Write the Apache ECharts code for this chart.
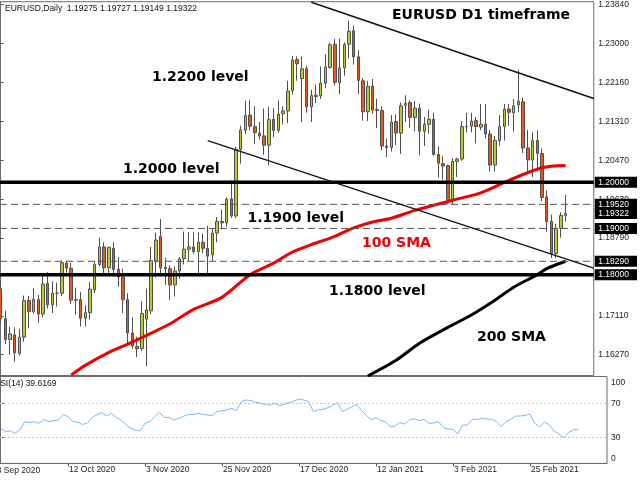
<!DOCTYPE html>
<html><head><meta charset="utf-8">
<script src="https://cdn.jsdelivr.net/npm/echarts@6/dist/echarts.min.js"></script>
<style>html,body{margin:0;padding:0;background:#fff}#c{width:640px;height:480px}</style>
</head><body><div id="c"></div>
<script>
// Daily bars, index 0 = 22 Sep 2020 ... index 120 = 11 Mar 2021
const opens = [
1.1770,1.1705,1.1660,1.1670,1.1630,1.1665,1.1744,1.1720,1.1746,1.1715,
1.1781,1.1735,1.1760,1.1760,1.1825,1.1814,1.1745,1.1746,1.1706,1.1718,
1.1767,1.1822,1.1860,1.1815,1.1857,1.1812,1.1795,1.1746,1.1674,1.1645,
1.1640,1.1704,1.1722,1.1830,1.1883,1.1816,1.1813,1.1778,1.1808,1.1835,
1.1855,1.1860,1.1850,1.1870,1.1857,1.1843,1.1890,1.1915,1.1912,1.1964,
1.1927,1.2071,1.2112,1.2145,1.2120,1.2106,1.2100,1.2080,1.2136,1.2112,
1.2148,1.2154,1.2198,1.2265,1.2224,1.2245,1.2163,1.2188,1.2187,1.2214,
1.2248,1.2298,1.2215,1.2247,1.2298,1.2327,1.2271,1.2219,1.2152,1.2208,
1.2157,1.2155,1.2078,1.2075,1.2131,1.2106,1.2166,1.2172,1.2140,1.2160,
1.2110,1.2125,1.2136,1.2060,1.2040,1.2036,1.1962,1.2045,1.2050,1.2120,
1.2121,1.2133,1.2119,1.2125,1.2104,1.2037,1.2090,1.2120,1.2158,1.2150,
1.2167,1.2174,1.2074,1.2048,1.2090,1.2062,1.1968,1.1915,1.1846,1.1900,
1.19275];
const closes = [
1.1705,1.1660,1.1672,1.1631,1.1665,1.1744,1.1720,1.1747,1.1715,1.1780,
1.1735,1.1760,1.1760,1.1826,1.1814,1.1745,1.1746,1.1706,1.1718,1.1769,
1.1822,1.1860,1.1815,1.1859,1.1811,1.1795,1.1746,1.1674,1.1646,1.1640,
1.1716,1.1724,1.1830,1.1875,1.1815,1.1813,1.1778,1.1808,1.1834,1.1855,
1.1860,1.1850,1.1870,1.1857,1.1840,1.1890,1.1915,1.1912,1.1963,1.1927,
1.2071,1.2113,1.2144,1.2121,1.2107,1.2100,1.2080,1.2135,1.2112,1.2147,
1.2154,1.2197,1.2264,1.2256,1.2245,1.2163,1.2187,1.2185,1.2214,1.2249,
1.2297,1.2216,1.2247,1.2297,1.2326,1.2271,1.2220,1.2152,1.2207,1.2156,
1.2155,1.2078,1.2075,1.2130,1.2106,1.2165,1.2170,1.2140,1.2160,1.2110,
1.2125,1.2136,1.2060,1.2041,1.2035,1.1962,1.2045,1.2050,1.2120,1.2120,
1.2132,1.2120,1.2125,1.2104,1.2037,1.2090,1.2120,1.2158,1.2151,1.2165,
1.2175,1.2074,1.2048,1.2090,1.2062,1.1967,1.1915,1.1846,1.1900,1.1928,
1.19322];
const highs = [
1.1787,1.1722,1.1688,1.1686,1.1683,1.1755,1.1754,1.1771,1.1756,1.1798,
1.1806,1.1786,1.1783,1.1831,1.1830,1.1826,1.1772,1.1763,1.1734,1.1784,
1.1829,1.1880,1.1870,1.1860,1.1870,1.1838,1.1813,1.1760,1.1708,1.1666,
1.1743,1.1770,1.1860,1.1891,1.1920,1.1837,1.1820,1.1818,1.1838,1.1893,
1.1892,1.1893,1.1891,1.1889,1.1906,1.1900,1.1925,1.1941,1.1967,1.2004,
1.2077,1.2122,1.2176,1.2178,1.2164,1.2130,1.2159,1.2163,1.2160,1.2177,
1.2164,1.2219,1.2273,1.2272,1.2272,1.2251,1.2200,1.2211,1.2250,1.2276,
1.2302,1.2310,1.2310,1.2302,1.2349,1.2339,1.2285,1.2225,1.2219,1.2223,
1.2180,1.2164,1.2094,1.2145,1.2146,1.2172,1.2188,1.2177,1.2175,1.2170,
1.2141,1.2157,1.2150,1.2077,1.2056,1.2038,1.2052,1.2053,1.2132,1.2150,
1.2150,1.2141,1.2169,1.2169,1.2113,1.2100,1.2145,1.2169,1.2169,1.2180,
1.2243,1.2183,1.2113,1.2108,1.2112,1.2073,1.1982,1.1930,1.1910,1.1935,
1.19727];
const lows = [
1.1696,1.1650,1.1627,1.1612,1.1625,1.1655,1.1684,1.1716,1.1696,1.1708,
1.1727,1.1717,1.1731,1.1754,1.1797,1.1737,1.1714,1.1688,1.1688,1.1703,
1.1760,1.1818,1.1803,1.1801,1.1800,1.1774,1.1717,1.1650,1.1640,1.1622,
1.1635,1.1602,1.1714,1.1794,1.1800,1.1778,1.1745,1.1753,1.1791,1.1822,
1.1830,1.1845,1.1800,1.1846,1.1803,1.1830,1.1870,1.1898,1.1904,1.1923,
1.1923,1.2040,1.2104,1.2112,1.2083,1.2092,1.2059,1.2036,1.2097,1.2107,
1.2125,1.2128,1.2189,1.2219,1.2130,1.2150,1.2130,1.2171,1.2180,1.2203,
1.2245,1.2209,1.2190,1.2230,1.2267,1.2254,1.2190,1.2133,1.2132,1.2148,
1.2117,1.2069,1.2054,1.2066,1.2080,1.2061,1.2130,1.2118,1.2110,1.2058,
1.2078,1.2105,1.2057,1.2010,1.2005,1.1952,1.1952,1.2011,1.2046,1.2107,
1.2108,1.2084,1.2112,1.2094,1.2023,1.2023,1.2079,1.2090,1.2122,1.2109,
1.2151,1.2063,1.2018,1.2011,1.2026,1.1959,1.1893,1.1836,1.1836,1.1880,
1.19149];
const rsi = [
40.9,37.0,37.8,35.1,39.0,48.6,47.5,48.6,46.7,51.3,
48.5,49.8,50.6,57.2,54.5,48.6,48.2,45.5,46.7,53.3,
56.8,59.1,55.2,58.3,53.7,50.6,45.5,40.9,39.0,37.8,
46.7,48.6,54.5,59.5,53.7,53.7,50.6,52.5,54.9,57.2,
56.8,58.3,57.2,56.4,55.6,60.7,61.4,62.2,64.2,61.4,
71.9,74.0,73.2,71.2,70.4,68.8,68.0,70.0,67.3,69.2,
70.8,72.7,75.1,74.0,71.9,60.3,62.6,63.0,65.0,67.5,
70.8,60.3,63.0,66.0,68.8,61.5,56.0,50.6,53.3,49.8,
48.6,42.8,43.6,47.5,45.9,51.3,51.7,49.8,51.3,46.7,
47.2,48.6,41.7,40.1,39.7,34.3,44.4,44.8,51.3,51.3,
52.5,51.7,51.5,49.0,42.8,48.6,51.3,55.2,55.2,56.0,
57.6,46.7,42.8,47.9,45.1,37.8,34.3,30.0,35.9,39.0,
39.6];
// moving averages: [bar index, value]
const sma100 = [[15,1.1583],[18,1.1604],[23,1.1632],[27,1.1650],[31,1.1669],[36,1.1694],[41,1.1725],[47,1.1751],[53,1.1800],[58,1.1825],[62,1.1849],[66,1.1865],[70,1.1879],[75,1.1901],[79,1.1914],[83,1.1922],[88,1.1939],[96,1.1961],[102,1.1977],[108,1.2004],[115,1.2031],[120,1.2036]];
const sma200 = [[78,1.1581],[84,1.1615],[89,1.1652],[95,1.1686],[100,1.1713],[105,1.1745],[109,1.1773],[114,1.1800],[116,1.1813],[120,1.1829]];
// drawn objects
const trendUpper = [[66,1.2389],[126,1.2181]];
const trendLower = [[44,1.2090],[126,1.1814]];
const solidLevels = [1.2000,1.1800];
const dashedLevels = [1.1952,1.1900,1.1829];
// axes
const priceTicks = [1.16270,1.17110,1.18790,1.19630,1.20470,1.21310,1.22160,1.23000,1.23840];
const markedPrices = [1.20000,1.19520,1.19322,1.19000,1.18290,1.18000];
const rsiTicks = [0,30,70,100];
const dateTickIndex = [14,30,46,62,78,94,110];
const dateTickLabels = ['12 Oct 2020','3 Nov 2020','25 Nov 2020','17 Dec 2020','12 Jan 2021','3 Feb 2021','25 Feb 2021'];
const firstDateLabel = '18 Sep 2020';
const infoText = 'EURUSD,Daily  1.19275 1.19727 1.19149 1.19322';
const rsiText = 'RSI(14) 39.6169';

const F = '"Liberation Sans", Arial, sans-serif';
const B = '"DejaVu Sans", sans-serif';
const candleData = opens.map((o,i)=>[i,o,closes[i],lows[i],highs[i]]);
const isMarked = v => markedPrices.some(h=>Math.abs(h-v)<1e-7);

const chart = echarts.init(document.getElementById('c'));

const levelSeries = [];
solidLevels.forEach(v=>levelSeries.push({type:'line',xAxisIndex:0,yAxisIndex:0,z:5,showSymbol:false,silent:true,
  data:[[-0.125,v],[126,v]],lineStyle:{color:'#000',width:3.5}}));
dashedLevels.forEach(v=>levelSeries.push({type:'line',xAxisIndex:0,yAxisIndex:0,z:5,showSymbol:false,silent:true,
  data:[[-0.125,v],[126,v]],lineStyle:{color:'#555',width:1,type:[7,4]}}));
levelSeries.push({type:'line',xAxisIndex:0,yAxisIndex:0,z:5,showSymbol:false,silent:true,data:trendUpper,lineStyle:{color:'#111',width:1.6}});
levelSeries.push({type:'line',xAxisIndex:0,yAxisIndex:0,z:5,showSymbol:false,silent:true,data:trendLower,lineStyle:{color:'#111',width:1.3}});

const txt = (text,x,y,font,fill)=>({type:'text',x:x,y:y,z:100,silent:true,style:{text:text,font:font,fill:fill||'#000',verticalAlign:'middle',align:'left'}});

chart.setOption({
  animation:false,
  backgroundColor:'#fff',
  grid:[
    {left:0,right:33,top:1,height:374.5,show:true,borderColor:'#6a6a6a',borderWidth:1},
    {left:0,right:33,top:376.5,height:86.9,show:true,borderColor:'#6a6a6a',borderWidth:1}
  ],
  xAxis:[
    {gridIndex:0,type:'value',min:-0.125,max:126,show:false},
    {gridIndex:1,type:'value',min:-0.125,max:126,
     axisLine:{show:true,lineStyle:{color:'#6a6a6a'}},
     splitLine:{show:false},
     axisTick:{show:true,customValues:dateTickIndex,length:3,lineStyle:{color:'#555'}},
     axisLabel:{show:true,customValues:dateTickIndex,align:'left',margin:2,padding:[0,0,0,1],
       fontFamily:'Liberation Sans',fontSize:8.5,color:'#222',
       formatter:v=>dateTickLabels[dateTickIndex.indexOf(Math.round(v))]||''}}
  ],
  yAxis:[
    {gridIndex:0,type:'value',position:'right',min:1.15821,max:1.2390,scale:true,
     splitLine:{show:false},
     axisLine:{show:true,lineStyle:{color:'#6a6a6a'}},
     axisTick:{show:true,customValues:priceTicks,length:3,lineStyle:{color:'#555'}},
     axisLabel:{show:true,customValues:priceTicks.concat(markedPrices),margin:1,
       formatter:v=>(isMarked(v)?'{h|':'{n|')+v.toFixed(5)+'}',
       rich:{
         n:{fontFamily:'Liberation Sans',fontSize:8.5,color:'#222',padding:[0,0,0,3.5]},
         h:{fontFamily:'Liberation Sans',fontSize:8.5,color:'#fff',backgroundColor:'#000',padding:[1,8,1,3.5]}
       }}},
    {gridIndex:1,type:'value',position:'right',min:0,max:101.3,
     splitLine:{show:false},
     axisLine:{show:true,lineStyle:{color:'#6a6a6a'}},
     axisTick:{show:true,customValues:[30,70],length:3,lineStyle:{color:'#555'}},
     axisLabel:{show:true,customValues:rsiTicks,margin:4,
       formatter:v=>v===100?'{t|100}':v===0?'{b|0}':'{n|'+v+'}',
       rich:{
         n:{fontFamily:'Liberation Sans',fontSize:8.5,color:'#222'},
         t:{fontFamily:'Liberation Sans',fontSize:8.5,color:'#222',padding:[10,0,0,0]},
         b:{fontFamily:'Liberation Sans',fontSize:8.5,color:'#222',padding:[0,0,10,0]}
       }}}
  ],
  series:[
    {type:'candlestick',xAxisIndex:0,yAxisIndex:0,data:candleData,barWidth:3,z:2,
     itemStyle:{color:'#b2cf2e',color0:'#e8581e',borderColor:'#505050',borderColor0:'#505050',borderWidth:1}},
    {type:'line',xAxisIndex:0,yAxisIndex:0,data:sma100,showSymbol:false,z:4,smooth:0.3,
     lineStyle:{color:'#f00000',width:3}},
    {type:'line',xAxisIndex:0,yAxisIndex:0,data:sma200,showSymbol:false,z:4,smooth:0.3,
     lineStyle:{color:'#000',width:3}},
    {type:'line',xAxisIndex:1,yAxisIndex:1,data:rsi.map((v,i)=>[i,v]),showSymbol:false,z:4,
     lineStyle:{color:'#7ab8f5',width:1},
     markLine:{silent:true,symbol:['none','none'],label:{show:false},
       lineStyle:{color:'#c4c4c4',width:1,type:[2,2]},data:[{yAxis:70},{yAxis:30}]}}
  ].concat(levelSeries),
  graphic:[
    txt(infoText,5,8.5,'8.5px '+F,'#111'),
    txt(rsiText,-6,384,'8.5px '+F,'#111'),
    txt(firstDateLabel,-8,470.5,'8.5px '+F,'#222'),
    txt('EURUSD D1 timeframe',392,15,'bold 14px '+B),
    txt('1.2200 level',152,77,'bold 14px '+B),
    txt('1.2000 level',123,169,'bold 14px '+B),
    txt('1.1900 level',247.5,218,'bold 14px '+B),
    txt('100 SMA',362,243,'bold 14px '+B,'#f00000'),
    txt('1.1800 level',329,291,'bold 14px '+B),
    txt('200 SMA',477,337.5,'bold 14px '+B)
  ]
});
</script></body></html>
